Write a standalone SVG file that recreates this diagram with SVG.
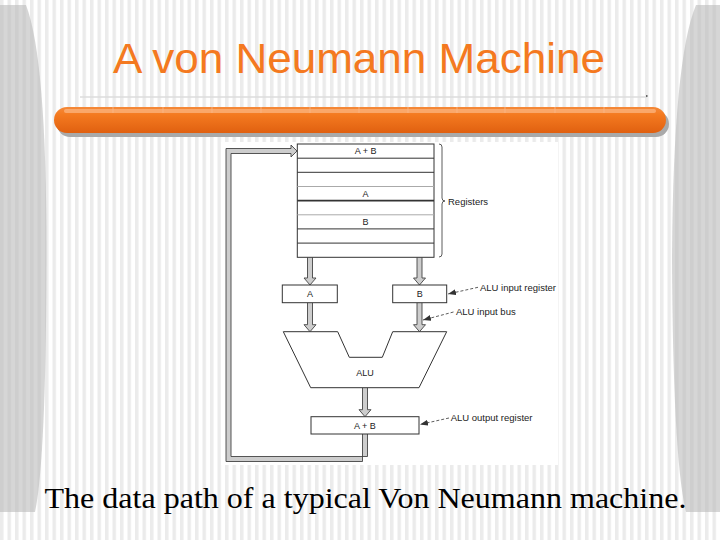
<svg xmlns="http://www.w3.org/2000/svg" width="720" height="540" viewBox="0 0 720 540">
<defs>
<pattern id="stripes" width="7.5" height="10" patternUnits="userSpaceOnUse">
<rect width="7.5" height="10" fill="#ffffff"/>
<rect width="3.5" height="10" fill="#ebebeb"/>
</pattern>
<pattern id="pstripes" width="7.5" height="10" patternUnits="userSpaceOnUse">
<rect width="7.5" height="10" fill="#d6d6d6"/>
<rect width="3.5" height="10" fill="#cecece"/>
</pattern>
<linearGradient id="bar" x1="0" y1="0" x2="0" y2="1">
<stop offset="0" stop-color="#f58a3a"/>
<stop offset="0.3" stop-color="#f47a20"/>
<stop offset="1" stop-color="#e06010"/>
</linearGradient>
<marker id="ah" viewBox="0 0 8 6" refX="8" refY="3" markerWidth="8" markerHeight="6" markerUnits="userSpaceOnUse" orient="auto">
<path d="M0,0 L8,3 L0,6 Z" fill="#333"/>
</marker>
<style>
.box{fill:#fff;stroke:#333;stroke-width:1}
.lbl{font-family:"Liberation Sans",Arial,sans-serif;font-size:9px;fill:#222;text-anchor:middle}
.ann{font-family:"Liberation Sans",Arial,sans-serif;font-size:9.5px;fill:#222}
.bus{fill:#cdcdcd;stroke:#444;stroke-width:0.9;stroke-linejoin:miter}
.lead{fill:none;stroke:#333;stroke-width:0.8;stroke-dasharray:3,2}
</style>
</defs>

<!-- slide background -->
<rect width="720" height="540" fill="url(#stripes)"/>
<path d="M0,5 H26 Q47,60 46.5,260 Q46,460 35,512 H0 Z" fill="url(#pstripes)"/>
<path d="M720,5 H696 Q673,60 672,260 Q673,460 686,512 H720 Z" fill="url(#pstripes)"/>

<!-- title -->
<text x="359" y="73" font-family="'Liberation Sans',Arial,sans-serif" font-size="43" fill="#f47920" text-anchor="middle" textLength="492" lengthAdjust="spacingAndGlyphs">A von Neumann Machine</text>

<!-- title bar -->
<line x1="80" y1="97" x2="647" y2="97" stroke="#dcdcdc" stroke-width="1.5"/>
<rect x="646" y="95" width="1.5" height="2" fill="#666"/>
<rect x="57" y="111" width="612" height="26" rx="13" fill="#a9a9a9"/>
<rect x="54" y="107" width="612" height="26" rx="13" fill="url(#bar)"/>
<rect x="64" y="109" width="592" height="4" rx="2" fill="#fbb27a" opacity="0.8"/>
<g stroke="#f9b88a" stroke-width="0.8">
<line x1="113" y1="107" x2="113" y2="113"/><line x1="163" y1="107" x2="163" y2="113"/>
<line x1="212" y1="107" x2="212" y2="113"/><line x1="261" y1="107" x2="261" y2="113"/>
<line x1="310" y1="107" x2="310" y2="113"/><line x1="359" y1="107" x2="359" y2="113"/>
<line x1="408" y1="107" x2="408" y2="113"/><line x1="457" y1="107" x2="457" y2="113"/>
<line x1="505" y1="107" x2="505" y2="113"/><line x1="555" y1="107" x2="555" y2="113"/>
<line x1="604" y1="107" x2="604" y2="113"/>
</g>

<!-- diagram backdrop -->
<rect x="221" y="142" width="337" height="323" fill="#ffffff"/>

<!-- connectors -->
<g id="connectors">
<path class="bus" d="M362.5,434 V461.5 H226 V148.5 H291 V145 L297,151 L291,157 V153.5 H231 V456.5 H367.5 V434"/>
<path class="bus" d="M307.5,257.3 V278 H304 L310,285 L316,278 H312.5 V257.3"/>
<path class="bus" d="M417,257.3 V278 H413.5 L419.5,285 L425.5,278 H422 V257.3"/>
<path class="bus" d="M307.5,302.7 V324.7 H304 L310,331.7 L316,324.7 H312.5 V302.7"/>
<path class="bus" d="M417,302.7 V324.7 H413.5 L419.5,331.7 L425.5,324.7 H422 V302.7"/>
<path class="bus" d="M362.5,387.7 V409.7 H359 L365,416.7 L371,409.7 H367.5 V387.7"/>
<line class="lead" x1="478" y1="287.3" x2="448" y2="294" marker-end="url(#ah)"/>
<line class="lead" x1="453.5" y1="312" x2="423" y2="320" marker-end="url(#ah)"/>
<line class="lead" x1="449" y1="418" x2="420" y2="424.5" marker-end="url(#ah)"/>
<path d="M439,144 Q442,144 442,147 V198 Q442,201 445,201 Q442,201 442,204 V254 Q442,257 439,257" fill="none" stroke="#333" stroke-width="0.8"/>
</g>

<!-- registers -->
<g id="registers">
<rect class="box" x="297.3" y="144" width="136.7" height="113.3"/>
<line x1="297.3" y1="158.2" x2="434" y2="158.2" stroke="#333" stroke-width="1"/>
<line x1="297.3" y1="172.3" x2="434" y2="172.3" stroke="#333" stroke-width="1"/>
<line x1="297.3" y1="186.5" x2="434" y2="186.5" stroke="#aaa" stroke-width="1"/>
<line x1="297.3" y1="200.6" x2="434" y2="200.6" stroke="#333" stroke-width="1.6"/>
<line x1="297.3" y1="214.8" x2="434" y2="214.8" stroke="#aaa" stroke-width="1"/>
<line x1="297.3" y1="228.9" x2="434" y2="228.9" stroke="#333" stroke-width="1"/>
<line x1="297.3" y1="243.1" x2="434" y2="243.1" stroke="#333" stroke-width="1"/>
<text class="lbl" x="365.6" y="154.3">A + B</text>
<text class="lbl" x="365.6" y="197">A</text>
<text class="lbl" x="365.6" y="225.3">B</text>
</g>
<g id="registers-label"><text class="ann" x="448" y="204.5">Registers</text></g>

<!-- ALU input registers -->
<g id="regA">
<rect class="box" x="282.3" y="285" width="55" height="17.7"/>
<text class="lbl" x="310" y="297">A</text>
</g>
<g id="regB">
<rect class="box" x="392.7" y="285" width="54" height="17.7"/>
<text class="lbl" x="419.7" y="297">B</text>
</g>

<!-- ALU -->
<g id="alu">
<path d="M283.3,331.7 H337.7 L349.3,357.3 H382.3 L392.7,331.7 H446.7 L419,387.7 H310.7 Z" fill="#fff" stroke="#333" stroke-width="1"/>
<text class="lbl" x="365" y="376">ALU</text>
</g>

<!-- ALU output register -->
<g id="regOut">
<rect class="box" x="311" y="416.7" width="108" height="17.3"/>
<text class="lbl" x="365" y="428.5">A + B</text>
</g>

<g id="annotations">
<text class="ann" x="480" y="290.5">ALU input register</text>
<text class="ann" x="456" y="315">ALU input bus</text>
<text class="ann" x="450.7" y="421">ALU output register</text>
</g>

<!-- caption -->
<text x="44.5" y="508" font-family="'Liberation Serif','Times New Roman',serif" font-size="30" fill="#000" textLength="642" lengthAdjust="spacingAndGlyphs">The data path of a typical Von Neumann machine.</text>
</svg>
